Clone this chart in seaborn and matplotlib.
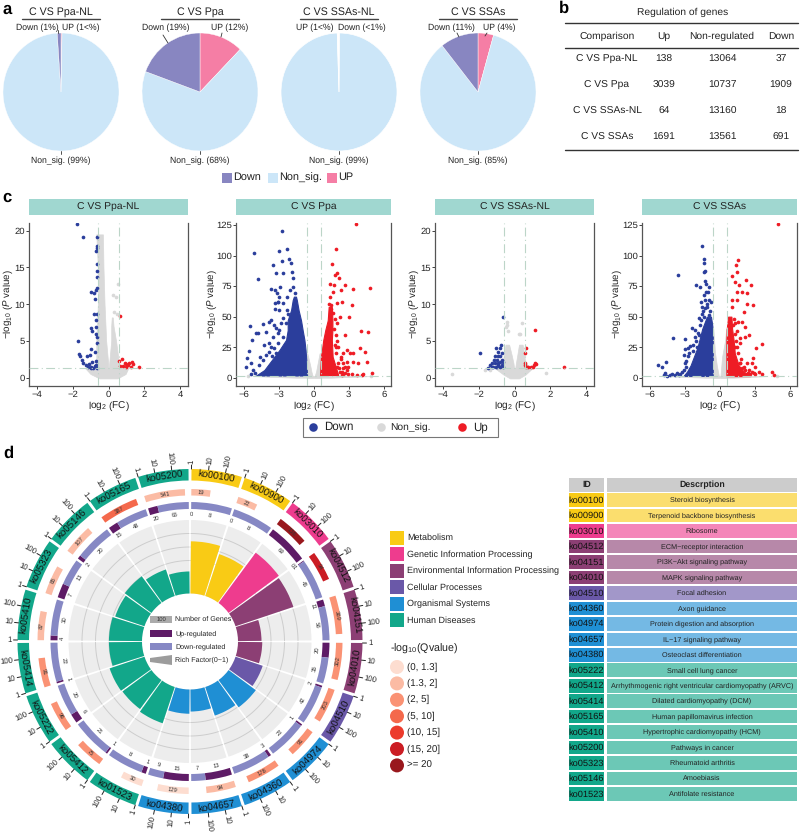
import numpy as np
import pandas as pd
import matplotlib
matplotlib.use("Agg")
import matplotlib.pyplot as plt
from matplotlib.patches import Rectangle, Polygon, Circle
import seaborn as sns

sns.set_theme(style="ticks")
plt.rcParams["font.family"] = ["Liberation Sans", "DejaVu Sans"]
plt.rcParams["mathtext.fontset"] = "custom"
plt.rcParams["mathtext.rm"] = "Liberation Sans"
plt.rcParams["mathtext.it"] = "Liberation Sans:italic"
plt.rcParams["mathtext.default"] = "regular"
plt.rcParams["text.hinting"] = "no_hinting"

W, H = 800, 833
DARK = "#222222"

# Panel a / b data
COMPARISONS = ["C VS Ppa-NL", "C VS Ppa", "C VS SSAs-NL", "C VS SSAs"]
UP_COL = [138, 3039, 64, 1691]
NON_COL = [13064, 10737, 13160, 13561]
DOWN_COL = [37, 1909, 18, 691]
PIE_DOWN_TXT = ["Down (1%)", "Down (19%)", "Down (<1%)", "Down (11%)"]
PIE_UP_TXT = ["UP (1<%)", "UP (12%)", "UP (1<%)", "UP (4%)"]
PIE_NON_TXT = ["Non_sig. (99%)", "Non_sig. (68%)", "Non_sig. (99%)", "Non_sig. (85%)"]
C_DOWN, C_NON, C_UP = "#8886C1", "#CCE6F8", "#F57EA5"

# Panel c: separated points (log2FC, -log10 P)
p1_down = [(-1.75,20.9),(-1.40,19.2),(-.63,19.2),(-.65,17.9),(-.63,17.6),(-.68,17.3),(-.65,15.5),(-.66,14.5),
           (-.63,13.7),(-.63,12.2),(-.72,11.9),(-.96,11.7),(-.81,11.5),(-.77,10.7),(-.81,8.7),(-.66,8.7),(-.68,7.8),
           (-.96,6.8),(-.92,6.3),(-.68,6.9),(-.68,6.0),(-1.70,5.0),(-.63,5.6),(-.65,4.7),(-1.64,3.2),(-1.6,2.9),
           (-.96,3.9),(-.77,3.5),(-1.05,3.1),(-1.5,2.4),(-1.2,2.9),(-1.42,2.0),(-1.27,1.7),(-1.09,1.9),(-.9,2.2),
           (-.72,2.3),(-1.14,1.5),(-.96,1.5),(-.77,1.6),(-.68,1.7),(-.65,1.3),(-.87,1.3),(-1.0,1.3)]
p1_up = [(.65,8.4),(.74,2.6),(.61,2.3),(.89,2.0),(.65,1.6),(.79,1.6),(.98,1.5),(1.31,2.1),(1.16,2.0),(1.07,1.7),
         (1.35,1.9),(1.25,1.5),(1.72,1.4),(.98,1.9)]
p1_gray = [(.52,12.8),(.24,11.2),(.42,11),(.33,9),(.48,8.7)]
p2_down = [(-5.14,102.3),(-3.0,103.7),(-2.74,120.4),(-2.26,105),(-4.74,80.8),(-3.46,92),(-2.74,95.8),(-3.23,85.4),
           (-2.6,85.4),(-2.14,97),(-1.97,93.6),(-1.89,86.8),(-1.74,82),(-3.69,73),(-3.31,72),(-3.17,69),(-2.89,74.5),
           (-3.09,62),(-3.31,56),(-2.6,60.9),(-2.31,66.3),(-2.03,71.8),(-1.74,74.5),(-1.6,69),(-2.31,55.4),
           (-5.46,42.3),(-5.29,30.9),(-5.52,22.2),(-5.72,15.9),(-5.37,11.8),(-5.8,8.5),(-5.23,6.3),(-4.94,36.9),
           (-4.8,36.9),(-4.37,43.7),(-3.66,47.3),(-3.8,46),(-3.37,43.2),(-3.23,40.4),(-4.09,37.7),(-3.52,33.6),
           (-3.09,36.3),(-4.23,26.8),(-3.8,28.2),(-3.66,25.4),(-3.37,24.1),(-3.09,28.2),(-4.09,18.6),(-4.37,14.5),
           (-3.8,21.3),(-4.66,10.4),(-2.94,55.4),(-3.09,62.3),(-3.29,60.9),(-2.94,66.4),(-2.23,52.2),(-2.66,48.6),
           (-2.37,44.5),(-2.8,44.5),(-2.94,39),(-2.66,33.6),(-5.0,3.5),(-5.4,3),(-4.6,17),(-3.6,18),(-3.2,20)]
p2_up = [(3.63,125.8),(1.94,105),(1.57,92.8),(2.03,86),(1.83,84),(2.2,81.3),(1.4,76.4),(1.77,75.9),(2.69,75.9),
         (4.83,73.7),(3.4,72.9),(1.69,70.4),(2.31,71.8),(1.4,66.3),(3.26,59.5),(2.4,61.7),(1.97,60.9),(1.46,59.5),
         (3.03,49.9),(2.26,49.4),(1.97,44.5),(4.03,37.9),(4.69,37.1),(2.69,34.9),(3.97,24),(4.4,20.7),(2.83,22.7),
         (2.11,24.8),(3.11,19.9),(2.54,19.9),(3.34,20),(4.54,13.1),(3.83,12.3),(3.4,13),(2.83,13),(2.54,11.7),
         (2.97,9),(2.54,7.6),(4.97,4.1),(4.26,3),(4.1,2.2),(3.26,2.7),(2.97,3),(2.69,3.5),(2.4,4.9),(3.69,1.9),(2.83,6.3),
         (2.3,15),(2.0,9),(2.25,5),(2.5,3),(2.3,17),(2.7,9),(2.0,30),(1.9,35),(2.1,12),(1.95,20),(1.8,27),(1.75,40),
         (1.8,48),(1.65,53),(1.5,56),(1.35,60),(2.2,8),(2.4,2.5),(1.9,25)]
p2_gray = [(-5.6,1.0),(4.9,1.2)]
p3_down = [(-.63,8.3),(-1.94,3.3),(-1.05,4.1),(-.77,4.4),(-.81,4),(-1.46,1.3),(-1.37,1.7),(-1.27,2),(-1.18,1.5),
           (-1.09,2),(-1.09,2.9),(-1,2.4),(-.9,2.9),(-.9,3.5),(-.72,3.3),(-.81,2.2),(-1,1.5),(-.9,1.7),(-.72,2.4),
           (-.72,1.7),(-.81,1.4),(-.66,1.5),(-1.14,2.4),(-1.27,1.4),(-.81,3),(-.63,2.2),(-.94,2),(-1.05,1.4)]
p3_up = [(1.13,6.5),(.66,4.1),(.61,3.3),(2.73,1.4),(.57,2),(.63,1.5),(.76,1.5),(.94,1.5),(1.13,2),(1.22,1.9),
         (1.03,1.4),(1.09,1.7),(.59,1.7)]
p3_gray = [(-3.49,.5),(1.77,.7),(-.44,7.6),(-.39,7.2),(-.48,6.9),(-.35,6.4),(.44,7.4),(.33,6),(.26,6),(-1.37,1),(-1.64,1.1)]
p4_down = [(-1.51,107.8),(-1.31,97.2),(-1.31,93.6),(-1.23,87.3),(-1.37,86.8),(-3.54,84),(-1.23,79.4),(-1.17,76.4),
           (-2.03,75.9),(-1.71,74),(-.94,74.5),(-1.37,67.7),(-1.03,70.4),(-1.6,62.2),(-1.23,63.6),(-.94,63.6),
           (-1.51,57.6),(-1.09,58.1),(-1.8,48.6),(-1.37,50),(-.94,51.3),(-2.09,39),(-2.37,40.4),(-4,32.2),(-3,31.7),
           (-2.51,26),(-2.29,26.7),(-1.94,25.4),(-2.94,23.2),(-3.09,18.6),(-2.74,17.7),(-5.29,10.4),(-4.57,12.6),
           (-4.94,9),(-4.66,3.5),(-4.8,2.2),(-4.09,2.7),(-3.66,4.1),(-2.94,11.7),(-2.86,9),(-3.23,4.9),(-4.51,1.4),(-3.8,2.2),
           (-2.9,14),(-2.6,20),(-2.3,22),(-2.0,30),(-1.8,35),(-1.7,43),(-1.6,47),(-1.4,55),(-1.1,60),(-.8,55),(-.75,62),
           (-.8,46),(-1.5,52),(-1.2,70),(-3.4,3),(-3.1,6),(-3.5,2),(-4.3,2),(-2.7,24),(-2.15,33),(-1.9,37),(-1.25,57)]
p4_up = [(5.03,125.8),(1.57,96.3),(1.4,92.3),(1.49,86.8),(1.09,83.5),(2.26,80),(1.34,78),(2.69,75.9),(1.63,75.9),
         (2.34,69),(1.49,69.9),(1.91,69.9),(1.06,63.6),(1.49,63.6),(2.34,60.3),(2.86,59.5),(1.06,57.6),(2.06,54),
         (1.54,45.9),(1.91,45.9),(2.2,41.8),(2.54,34.9),(2.2,33.6),(1.77,32.2),(3.63,28),(3.14,24),(1.77,28.7),
         (1.34,25.4),(2.86,15.8),(2.77,11.7),(2.34,11.7),(1.77,11.7),(2.06,9),(3.06,9),(2.49,6.3),(3.34,4.9),
         (3.63,3),(4.49,4.9),(4.69,2.2),(2.91,3.5),(1.4,30),(1.5,38),(1.3,45),(1.2,48),(1.8,15),(2.2,6),(2.4,4),
         (2.6,3),(1.9,8),(2.8,5),(3.0,3),(1.6,20),(1.5,25),(1.7,12),(1.3,36),(1.15,43),(2.3,3)]
p4_gray = [(4.9,1.0)]

# Dense clouds, read as (y levels, left edge, right edge)
p1_clouds_gray = [([-.1,.5,1.3],[-.5,-1.0,-1.3],[.5,.95,1.1]),
                  ([.2,2,5,10,15,19.5],[-.45,-.68,-.68,-.59,-.59,-.68],[0,-.02,-.13,-.22,-.28,-.31]),
                  ([.2,2,5,7,8.2],[0,.04,.15,.15,.18],[.35,.58,.42,.28,.24])]
p2_clouds_gray = [([0,.6,1.3],[-1.5,-3.5,-5],[1.5,3,4.8]),
                  ([0,5,10,20],[-.6,-.6,-.6,-.6],[-.05,-.2,-.3,-.55]),
                  ([0,5,10,20],[.03,.2,.3,.5],[.6,.6,.6,.6])]
p2_cloud_down = ([1.8,6.3,11.8,17.2,22.7,31,39,47,55.4,63.6,66.4],
                 [-4.94,-4.23,-3.8,-3.37,-2.94,-2.37,-2.23,-2.23,-1.94,-1.8,-1.7],
                 [-.57,-.6,-.62,-.66,-.7,-.8,-.95,-1.09,-1.3,-1.45,-1.52])
p2_cloud_up = ([2.2,17.2,31,39,47,58],[.54,.62,.82,.99,1.2,1.28],[2.1,1.62,1.55,1.6,1.6,1.55])
p3_clouds_gray = [([-.1,.4,1.3],[-.25,-.6,-1.1],[.25,.6,1.0]),
                  ([.2,1.3,2,3,4.5],[-.3,-1,-.65,-.6,-.5],[0,-.02,-.06,-.15,-.3]),
                  ([.2,1.3,2,3,4.5],[0,.04,.08,.15,.25],[.3,.95,.6,.55,.45])]
p4_clouds_gray = [([0,.6,1.3],[-1.2,-3,-4.6],[1.2,2.6,4]),
                  ([0,10,20,40],[-.6,-.6,-.6,-.6],[-.05,-.25,-.4,-.55]),
                  ([0,17,30,40],[.05,.2,.45,.55],[.6,.6,.6,.6])]
p4_cloud_down = ([1.5,5,10,15,25,40,50],[-3.1,-2.8,-2.5,-2.3,-1.9,-1.5,-1.1],[-.6,-.6,-.6,-.6,-.6,-.6,-.75])
p4_cloud_up = ([1.3,5,10,20,30,40,50],[.57,.57,.57,.57,.57,.6,.72],[2.6,2.06,1.63,1.29,1.2,1.06,1.0])

# Panel d data, clockwise from the top
KO = ["ko00100","ko00900","ko03010","ko04512","ko04151","ko04010","ko04510","ko04974","ko04360","ko04657",
      "ko04380","ko01523","ko05412","ko05222","ko05414","ko05410","ko05323","ko05146","ko05165","ko05200"]
KO_CLASS = [0,0,1,2,2,2,3,4,4,4,4,5,5,5,5,5,5,5,5,5]
GENES = [19,22,136,94,369,302,203,91,178,94,129,30,75,96,91,87,85,107,387,541]
QBIN = [1,1,6,5,2,2,2,2,2,1,0,0,2,2,2,1,1,1,3,1]
UP_REG = [0,0,69,1,11,20,2,1,3,13,15,1,1,6,1,4,7,2,15,20]
DOWN_REG = [8,8,0,45,56,35,42,22,38,7,9,8,21,20,22,30,13,20,48,65]
RICH = [.71,.60,.85,.83,.32,.33,.39,.46,.41,.30,.33,.52,.49,.50,.45,.45,.42,.45,.38,.30]
CLASS_NAMES = ["Metabolism","Genetic Information Processing","Environmental Information Processing",
               "Cellular Processes","Organismal Systems","Human Diseases"]
CLASS_COLORS = ["#F9CB15","#EE3C8E","#8C3F74","#6A58A8","#1F8FD4","#12A78A"]
Q_LABELS = ["(0, 1.3]","(1.3, 2]","(2, 5]","(5, 10]","(10, 15]","(15, 20]",">= 20"]
Q_COLORS = ["#FDDDD0","#FBBBA4","#FA9274","#F4694C","#EC3B2C","#CB1D24","#99181D"]

TABLE_ID = ["ko00100","ko00900","ko03010","ko04512","ko04151","ko04010","ko04510","ko04360","ko04974","ko04657",
            "ko04380","ko05222","ko05412","ko05414","ko05165","ko05410","ko05200","ko05323","ko05146","ko01523"]
TABLE_DESC = ["Steroid biosynthesis","Terpenoid backbone biosynthesis","Ribosome","ECM\u2212receptor interaction",
              "PI3K\u2212Akt signaling pathway","MAPK signaling pathway","Focal adhesion","Axon guidance",
              "Protein digestion and absorption","IL\u221217 signaling pathway","Osteoclast differentiation",
              "Small cell lung cancer","Arrhythmogenic right ventricular cardiomyopathy (ARVC)",
              "Dilated cardiomyopathy (DCM)","Human papillomavirus infection","Hypertrophic cardiomyopathy (HCM)",
              "Pathways in cancer","Rheumatoid arthritis","Amoebiasis","Antifolate resistance"]


fig = plt.figure(figsize=(W / 100, H / 100), dpi=100, facecolor="white")


def px_axes(left, top, right, bottom, **kw):
    return fig.add_axes([left / W, 1 - bottom / H, (right - left) / W, (bottom - top) / H], **kw)


over = fig.add_axes([0, 0, 1, 1], zorder=10)
over.set_xlim(0, W)
over.set_ylim(H, 0)
over.axis("off")
over.patch.set_alpha(0)


def label(x, y, s, size=6.3, ha="center", va="center", **kw):
    kw.setdefault("color", DARK)
    over.text(x, y, s, fontsize=size, ha=ha, va=va, **kw)


for letter, x, y in [("a", 7, 9), ("b", 564, 8), ("c", 7, 197), ("d", 8, 453)]:
    label(x, y, letter, size=12, fontweight="bold", color="black")

# --- a: pies
pie_cx = [61, 200, 339, 478]
down_x = [37, 166, 362, 451]
up_x = [81, 230, 315, 499]
leaders = [[(58, 30, 58, 33)], [(163, 35, 168, 43), (222, 33, 221, 37)], [], [(457, 33, 459, 37), (487, 33, 485, 36)]]
for i, cx in enumerate(pie_cx):
    ax = px_axes(cx - 58, 33, cx + 58, 151)
    sizes = [DOWN_COL[i], NON_COL[i], UP_COL[i]]
    cols = [C_UP, C_NON, C_DOWN] if i != 2 else ["white", C_NON, "white"]
    ax.pie(sizes, colors=cols, startangle=90, counterclock=False, radius=1.0,
           wedgeprops={"linewidth": 0.5 if i == 2 else 0.3, "edgecolor": "white"})
    ax.set_aspect("auto")
    ax.set_xlim(-1, 1)
    ax.set_ylim(-1, 1)
    label(cx, 12, COMPARISONS[i], size=7.7)
    over.plot([cx - 39, cx + 39], [19.3, 19.3], color="#444444", lw=1)
    label(cx, 161, PIE_NON_TXT[i], size=6.2)
    over.plot([cx, cx], [151, 154], color="#333333", lw=0.6)
    label(down_x[i], 27.5, PIE_DOWN_TXT[i], size=6.2)
    label(up_x[i], 28, PIE_UP_TXT[i], size=6.2)
    for x0, y0, x1, y1 in leaders[i]:
        over.plot([x0, x1], [y0, y1], color="#333333", lw=0.6)

for x, col, txt in [(222, C_DOWN, "Down"), (268, C_NON, "Non_sig."), (327, C_UP, "UP")]:
    over.add_patch(Rectangle((x, 173), 10, 10, color=col, lw=0))
    label(x + 11, 177.5, txt, size=7.8, ha="left")

# --- b: table
label(683, 12, "Regulation of genes", size=7.4)
for y in (23, 48, 149.5):
    over.plot([565, 798], [y, y], color="#333333", lw=1)
b_x = [607, 664, 722, 781]
for x, txt in zip(b_x, ["Comparison", "Up", "Non-regulated", "Down"]):
    label(x, 36, txt, size=7.4)
for r, y in enumerate([59, 85, 111, 137]):
    vals = [COMPARISONS[r], UP_COL[r], NON_COL[r], DOWN_COL[r]]
    for x, v in zip(b_x, vals):
        label(x, y, str(v), size=7.4)

# --- c: volcano plots
VOL_DOWN, VOL_UP, VOL_GRAY = "#2B3E9C", "#EE1C25", "#D9D9D9"
GUIDE = "#BCD5C8"
panels = [
    dict(box=(29, 188), xlim=(-4.42, 4.42), ylim=(-1.13, 21.05), xt=[-4, -2, 0, 2, 4], yt=[0, 5, 10, 15, 20],
         clouds=p1_clouds_gray, down=p1_down, up=p1_up, gray=p1_gray, cd=None, cu=None, ylab_x=8),
    dict(box=(236, 391), xlim=(-6.66, 6.62), ylim=(-6.8, 126.7), xt=[-6, -3, 0, 3, 6], yt=[0, 25, 50, 75, 100, 125],
         clouds=p2_clouds_gray, down=p2_down, up=p2_up, gray=p2_gray, cd=p2_cloud_down, cu=p2_cloud_up, ylab_x=212),
    dict(box=(435, 594), xlim=(-4.42, 4.42), ylim=(-1.13, 21.05), xt=[-4, -2, 0, 2, 4], yt=[0, 5, 10, 15, 20],
         clouds=p3_clouds_gray, down=p3_down, up=p3_up, gray=p3_gray, cd=None, cu=None, ylab_x=414),
    dict(box=(642, 797), xlim=(-6.66, 6.62), ylim=(-6.8, 126.7), xt=[-6, -3, 0, 3, 6], yt=[0, 25, 50, 75, 100, 125],
         clouds=p4_clouds_gray, down=p4_down, up=p4_up, gray=p4_gray, cd=p4_cloud_down, cu=p4_cloud_up, ylab_x=617),
]
for i, p in enumerate(panels):
    left, right = p["box"]
    over.add_patch(Rectangle((left, 199), right - left, 16, color="#A0D7D0", lw=0))
    label((left + right) / 2, 207, COMPARISONS[i], size=7.5)

    ax = px_axes(left, 223, right, 386)
    for ys, xl, xr in p["clouds"]:
        ax.fill_betweenx(ys, xl, xr, color=VOL_GRAY, lw=0.5, zorder=1)
    for cloud, col in [(p["cd"], VOL_DOWN), (p["cu"], VOL_UP)]:
        if cloud is not None:
            ax.fill_betweenx(cloud[0], cloud[1], cloud[2], color=col, lw=0.8, zorder=2)
    for pts, col in [(p["gray"], VOL_GRAY), (p["down"], VOL_DOWN), (p["up"], VOL_UP)]:
        df = pd.DataFrame(pts, columns=["fc", "logp"])
        sns.scatterplot(data=df, x="fc", y="logp", color=col, s=7, linewidth=0, legend=False, ax=ax, zorder=3)
    ax.axhline(1.3, color=GUIDE, lw=0.8, ls=(0, (8, 3, 1, 3)), zorder=4)
    for v in (-0.585, 0.585):
        ax.axvline(v, color=GUIDE, lw=0.8, ls=(0, (8, 3, 1, 3)), zorder=4)
    ax.set_xlim(*p["xlim"])
    ax.set_ylim(*p["ylim"])
    ax.set_xticks(p["xt"])
    ax.set_yticks(p["yt"])
    ax.tick_params(labelsize=6.8, length=2, width=0.6, pad=1, colors="#222222")
    for side in ("left", "bottom", "right"):
        ax.spines[side].set_color("#555555")
        ax.spines[side].set_linewidth(0.9)
    ax.spines["top"].set_visible(False)
    ax.set_xlabel("")
    ax.set_ylabel("")
    label((left + right) / 2, 406, r"log$_2$ (FC)", size=7.2)
    label(p["ylab_x"], 304, r"$-$log$_{10}$ ($\mathit{P}$ value)", size=7, rotation=90)

over.add_patch(Rectangle((303, 418), 195, 19, fc="white", ec="#777777", lw=0.8))
for x, col, txt, tx in [(313, VOL_DOWN, "Down", 324), (381, VOL_GRAY, "Non_sig.", 390), (462, VOL_UP, "Up", 473)]:
    over.scatter([x], [427], s=38, color=col, lw=0)
    label(tx, 427, txt, size=8.3 if txt != "Non_sig." else 7.4, ha="left")

# --- d: circular plot, radii are in pixels on the polar axes
CX, CY, RMAX = 190, 641.5, 205
pol = px_axes(CX - RMAX, CY - RMAX, CX + RMAX, CY + RMAX, projection="polar")
pol.set_theta_zero_location("N")
pol.set_theta_direction(-1)
pol.axis("off")
pol.patch.set_alpha(0)
STEP, WIDTH = 18.0, 17.0
LOG_DEG = 5.7


def tangent_rot(deg):
    d = deg % 360
    return 180 - d if 90 < d < 270 else -d


def radial_rot(deg):
    d = deg % 360
    return 90 - d if d < 180 else 270 - d


for i, ko in enumerate(KO):
    start = i * STEP + 0.5
    col = CLASS_COLORS[KO_CLASS[i]]
    mid = start + WIDTH / 2
    # outer sector ring
    pol.bar(np.radians(start), 11.5, width=np.radians(WIDTH), bottom=161, color=col, align="edge", lw=0)
    pol.text(np.radians(mid), 166.8, ko, fontsize=7, ha="center", va="center", color="#111111",
             rotation=tangent_rot(mid), rotation_mode="anchor")
    # log scale ticks 1 / 10 / 100
    for k, tick in enumerate(["1", "10", "100"]):
        t = np.radians(start + k * LOG_DEG)
        pol.plot([t, t], [172.5, 176.5], color="#222222", lw=0.7)
        deg = start + k * LOG_DEG
        pol.text(t, 178, tick, fontsize=5.6, color=DARK, rotation=radial_rot(deg), rotation_mode="anchor",
                 ha="left" if deg % 360 < 180 else "right", va="center")
    # number of genes
    span = np.log10(GENES[i]) * LOG_DEG
    pol.bar(np.radians(start), 6.5, width=np.radians(span), bottom=146, color=Q_COLORS[QBIN[i]], align="edge", lw=0)
    pol.text(np.radians(start + span / 2), 149.2, str(GENES[i]), fontsize=4.2, ha="center", va="center",
             color="#333333", rotation=tangent_rot(start + span / 2), rotation_mode="anchor")
    # up / down regulated
    total = UP_REG[i] + DOWN_REG[i]
    up_span = WIDTH * UP_REG[i] / total
    pol.bar(np.radians(start), 7, width=np.radians(up_span), bottom=132.5, color="#5E1B66", align="edge", lw=0)
    pol.bar(np.radians(start + up_span), 7, width=np.radians(WIDTH - up_span), bottom=132.5, color="#8688C4",
            align="edge", lw=0)
    up_pos = start + up_span / 2
    down_pos = start + up_span + (WIDTH - up_span) / 2
    pol.text(np.radians(up_pos), 127.5, str(UP_REG[i]), fontsize=4.2, ha="center", va="center", color="#333333",
             rotation=tangent_rot(up_pos), rotation_mode="anchor")
    pol.text(np.radians(down_pos), 127.5, str(DOWN_REG[i]), fontsize=4.2, ha="center", va="center", color="#333333",
             rotation=tangent_rot(down_pos), rotation_mode="anchor")
    # rich factor sectors
    th = np.radians(start)
    pol.bar(th, 73.5, width=np.radians(WIDTH), bottom=48, color="#EDEDED", align="edge", lw=0, zorder=1)
    arc = np.linspace(th, th + np.radians(WIDTH), 30)
    for r in (81, 94.5, 108):
        pol.plot(arc, np.full(30, r), color="#CDCDCD", lw=0.7, zorder=2)
    pol.bar(th, RICH[i] * 73.5, width=np.radians(WIDTH), bottom=48, color=col, align="edge", lw=0, zorder=3)
pol.set_ylim(0, RMAX)

# centre key
over.add_patch(Rectangle((150, 616), 22, 7, color="#ABABAB", lw=0))
label(161, 619.5, "100", size=4.2, color="#333333")
over.add_patch(Rectangle((150, 630), 22, 7, color="#5E1B66", lw=0))
over.add_patch(Rectangle((150, 643), 22, 7, color="#8688C4", lw=0))
over.add_patch(Polygon([(150, 658), (172, 655), (172, 665), (150, 662)], closed=True, color="#9C9C9C", lw=0))
for y, txt in [(619.5, "Number of Genes"), (633.5, "Up-regulated"), (646.5, "Down-regulated"), (660, "Rich Factor(0~1)")]:
    label(175, y, txt, size=5.1, ha="left")

# class legend
for k, (name, col) in enumerate(zip(CLASS_NAMES, CLASS_COLORS)):
    y = 531 + k * 16.45
    over.add_patch(Rectangle((390, y), 14, 14, color=col, lw=0))
    label(407, y + 7, name, size=6.5, ha="left")

label(390, 649, r"-log$_{10}$(Qvalue)", size=7.7, ha="left")
for k, (txt, col) in enumerate(zip(Q_LABELS, Q_COLORS)):
    y = 667 + k * 16.4
    over.add_patch(Circle((397, y), 7, color=col, lw=0))
    label(407, y, txt, size=7, ha="left")

# ID table
over.add_patch(Rectangle((569, 478), 35, 13.5, color="#CCCCCC", lw=0))
over.add_patch(Rectangle((607, 478), 190, 13.5, color="#CCCCCC", lw=0))
label(586.5, 485, "ID", size=6.3, fontweight="bold")
label(702, 485, "Descrption", size=6.3, fontweight="bold")
for r, (ko, desc) in enumerate(zip(TABLE_ID, TABLE_DESC)):
    y = 493.3 + r * 15.47
    col = CLASS_COLORS[KO_CLASS[KO.index(ko)]]
    over.add_patch(Rectangle((569, y), 35, 13.6, color=col, lw=0))
    over.add_patch(Rectangle((607, y), 190, 13.6, color=col, alpha=0.62, lw=0))
    label(586.5, y + 7, ko, size=6.7, color="#111111")
    label(702, y + 6.8, desc, size=5.2, color="#222222")

fig.savefig("out.png", dpi=100)
